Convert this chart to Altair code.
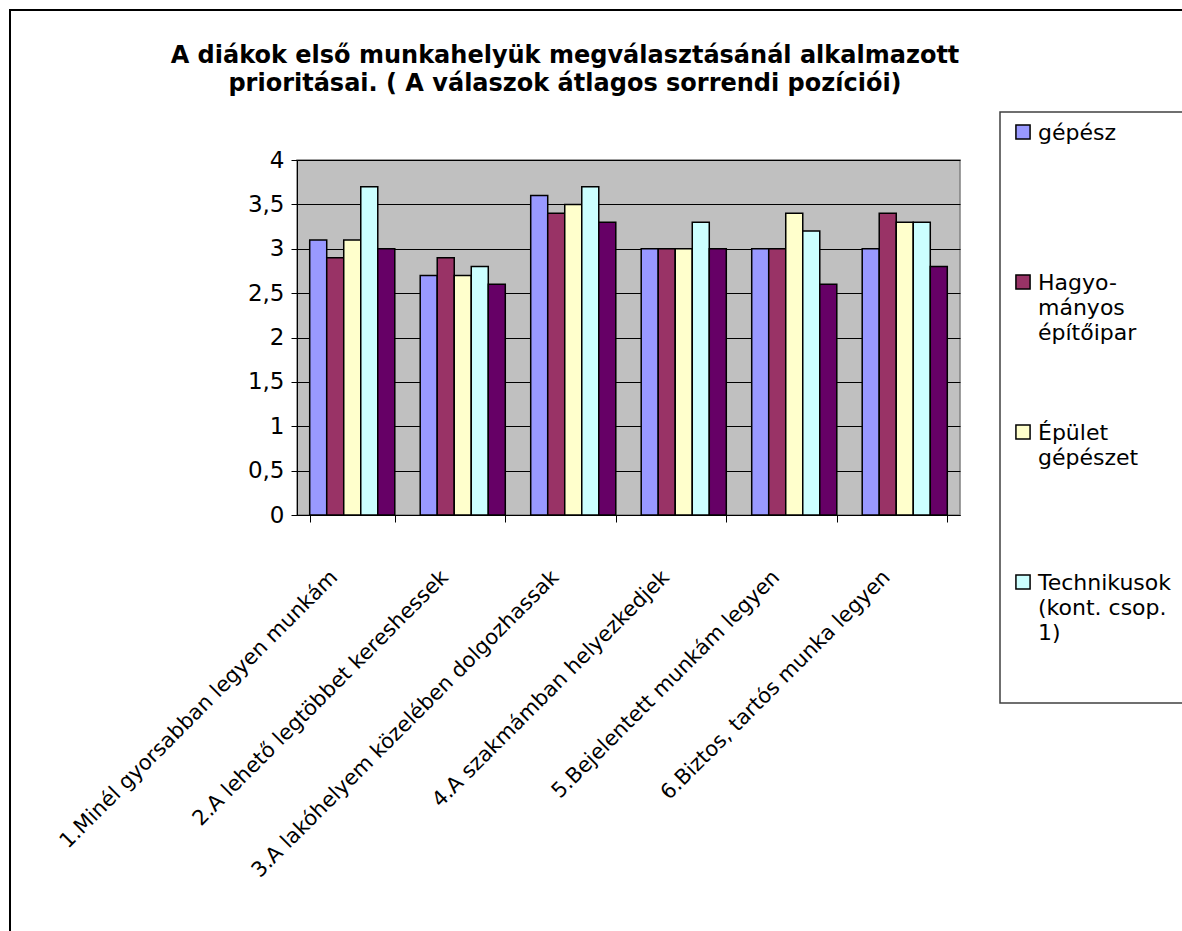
import altair as alt
import pandas as pd

# Category labels (x axis) and the series shown in each group
categories = [
    "1.Minél gyorsabban legyen munkám",
    "2.A lehető legtöbbet kereshessek",
    "3.A lakóhelyem közelében dolgozhassak",
    "4.A szakmámban helyezkedjek",
    "5.Bejelentett munkám legyen",
    "6.Biztos, tartós munka legyen",
]
series = [
    "gépész",
    "Hagyományos építőipar",
    "Épület gépészet",
    "Technikusok (kont. csop. 1)",
    "Technikusok (kont. csop. 2)",
]
colors = ["#9999FF", "#993366", "#FFFFCC", "#CCFFFF", "#660066"]

# Average rank positions per series
gepesz = [3.1, 2.7, 3.6, 3.0, 3.0, 3.0]
hagyomanyos = [2.9, 2.9, 3.4, 3.0, 3.0, 3.4]
epulet_gepeszet = [3.1, 2.7, 3.5, 3.0, 3.4, 3.3]
technikusok_1 = [3.7, 2.8, 3.7, 3.3, 3.2, 3.3]
technikusok_2 = [3.0, 2.6, 3.3, 3.0, 2.6, 2.8]

# Legend entries (wrapped as in the legend box); the last series is not listed
legend_labels = ["gépész", "Hagyo-\nmányos\népítőipar", "Épület\ngépészet", "Technikusok\n(kont. csop.\n1)"]

title_lines = [
    "A diákok  első munkahelyük megválasztásánál alkalmazott",
    "prioritásai. ( A válaszok átlagos sorrendi pozíciói)",
]
y_ticks = [0, 0.5, 1, 1.5, 2, 2.5, 3, 3.5, 4]

FONT = "DejaVu Sans"

# Layout (pixels)
PLOT_W, PLOT_H = 663, 355
PAD_L, PAD_T = 297, 160
CANVAS_W, CANVAS_H = 1182, 931

series_values = [gepesz, hagyomanyos, epulet_gepeszet, technikusok_1, technikusok_2]
rows = []
for s, vals in zip(series, series_values):
    for c, v in zip(categories, vals):
        rows.append({"kategória": c, "sorozat": s, "érték": v})
df = pd.DataFrame(rows)

bars = alt.Chart(df).mark_bar(stroke="black", strokeWidth=1.5).encode(
    x=alt.X(
        "kategória:N",
        sort=categories,
        scale=alt.Scale(paddingInner=0.23, paddingOuter=0.115),
        axis=alt.Axis(
            title=None,
            labelAngle=315,
            labelAlign="right",
            labelBaseline="top",
            labelFont=FONT,
            labelFontSize=21,
            labelColor="black",
            labelLimit=800,
            labelPadding=44,
            labelOffset=-26,
            tickBand="extent",
            tickSize=7,
            tickColor="black",
            domainColor="black",
            domainWidth=1,
            grid=False,
        ),
    ),
    xOffset=alt.XOffset("sorozat:N", sort=series),
    y=alt.Y(
        "érték:Q",
        scale=alt.Scale(domain=[0, 4], nice=False),
        axis=alt.Axis(
            title=None,
            values=y_ticks,
            labelExpr="replace(format(datum.value, '~g'), '.', ',')",
            labelFont=FONT,
            labelFontSize=23,
            labelColor="black",
            labelPadding=7,
            tickSize=6,
            tickColor="black",
            domainColor="black",
            domainWidth=1,
            grid=True,
            gridColor="black",
            gridWidth=1,
        ),
    ),
    color=alt.Color("sorozat:N", scale=alt.Scale(domain=series, range=colors), legend=None),
)

one = pd.DataFrame({"k": [0]})

# Outer chart frame
frame = alt.Chart(one).mark_rect(fill="transparent", stroke="black", strokeWidth=2).encode(
    x=alt.value(10 - PAD_L),
    x2=alt.value(CANVAS_W + 40 - PAD_L),
    y=alt.value(10 - PAD_T),
    y2=alt.value(CANVAS_H + 40 - PAD_T),
)

# Two-line bold title
title = alt.Chart(one).mark_text(
    text="\n".join(title_lines),
    lineBreak="\n",
    lineHeight=28,
    font=FONT,
    fontSize=24,
    fontWeight="bold",
    align="center",
    baseline="alphabetic",
    color="black",
).encode(x=alt.value(565 - PAD_L), y=alt.value(63 - PAD_T))

# Legend box
legend_box = alt.Chart(one).mark_rect(fill="white", stroke="#404040", strokeWidth=1.5).encode(
    x=alt.value(1000 - PAD_L),
    x2=alt.value(CANVAS_W + 40 - PAD_L),
    y=alt.value(112 - PAD_T),
    y2=alt.value(703 - PAD_T),
)

leg_df = pd.DataFrame({"label": legend_labels, "color": colors[: len(legend_labels)], "idx": list(range(len(legend_labels)))})
LEG_Y0, LEG_STEP = 132 - PAD_T, 150

leg_base = alt.Chart(leg_df).transform_calculate(
    ly=f"{LEG_Y0} + datum.idx * {LEG_STEP}",
    lt=f"{LEG_Y0} + datum.idx * {LEG_STEP} + 8",
)

leg_symbols = leg_base.mark_square(size=200, filled=True, stroke="black", strokeWidth=1.5, opacity=1).encode(
    x=alt.value(1023 - PAD_L),
    y=alt.Y("ly:Q", scale=None),
    color=alt.Color("color:N", scale=None),
)

leg_text = leg_base.mark_text(
    align="left",
    baseline="alphabetic",
    lineBreak="\n",
    lineHeight=25,
    font=FONT,
    fontSize=22,
    color="black",
).encode(
    x=alt.value(1038 - PAD_L),
    y=alt.Y("lt:Q", scale=None),
    text="label:N",
)

chart = (
    alt.layer(frame, legend_box, leg_symbols, leg_text, title, bars)
    .resolve_scale(y="independent", color="independent")
    .properties(
        width=PLOT_W,
        height=PLOT_H,
        autosize=alt.AutoSizeParams(type="none"),
        padding={"left": PAD_L, "top": PAD_T, "right": CANVAS_W - PAD_L - PLOT_W, "bottom": CANVAS_H - PAD_T - PLOT_H},
        background="white",
    )
    .configure_view(fill="#C0C0C0", stroke="#808080", strokeWidth=1.5)
)

chart.save("out.html", embed_options={"renderer": "svg", "actions": False})
